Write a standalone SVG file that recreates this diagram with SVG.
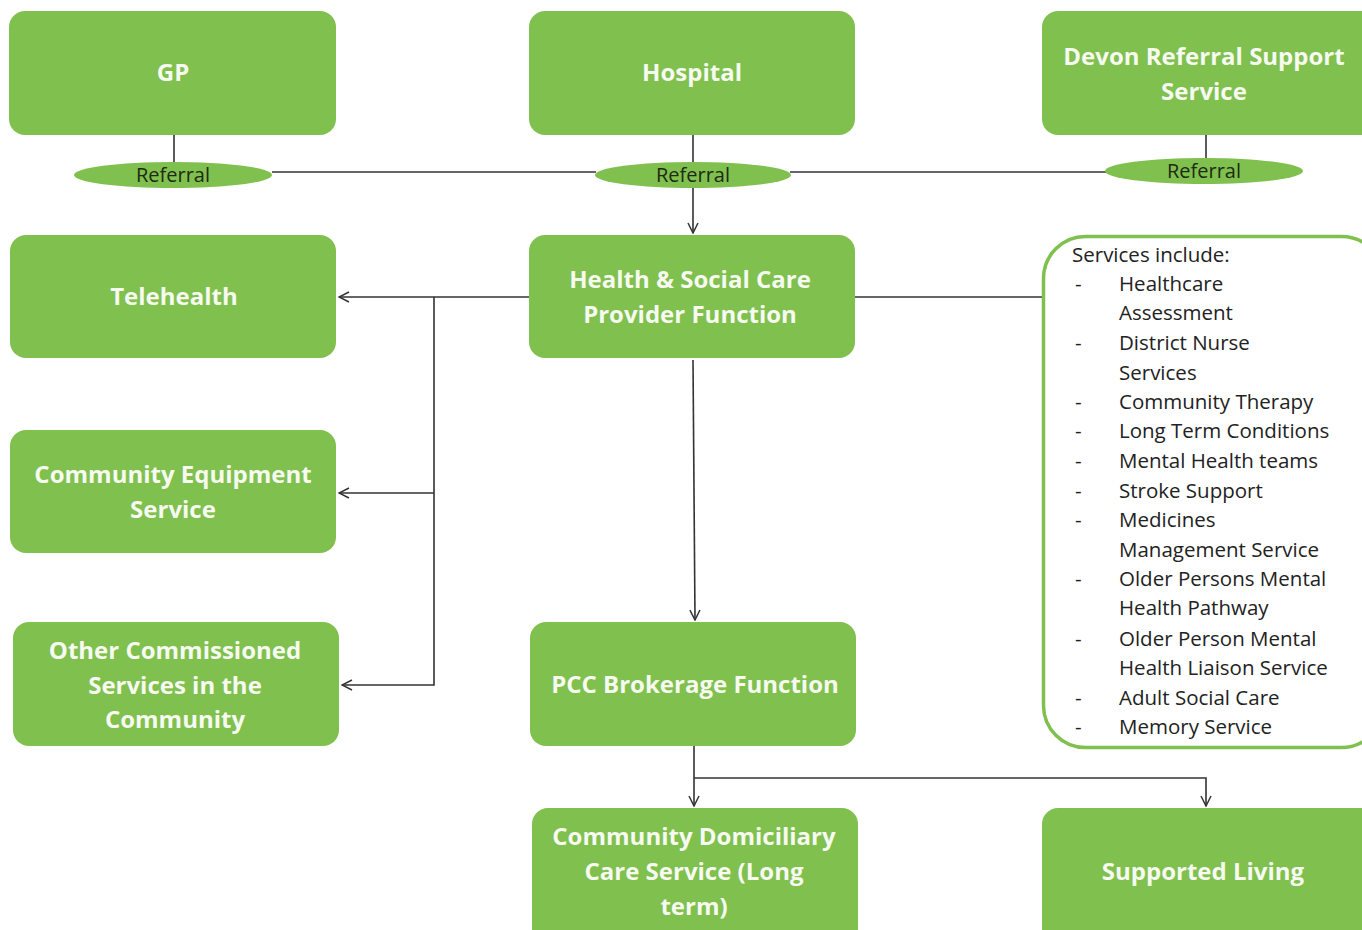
<svg xmlns="http://www.w3.org/2000/svg" width="1362" height="930" viewBox="0 0 1362 930">
<defs>
<marker id="arr" viewBox="0 0 12 12" refX="11" refY="6" markerWidth="12" markerHeight="12" markerUnits="userSpaceOnUse" orient="auto">
<path d="M1,1 L11,6 L1,11" fill="none" stroke="#333" stroke-width="1.5"/>
</marker>
</defs>
<style>
.box{fill:#80c04e;}
.ell{fill:#80c04e;}
.t{font-family:"Open Sans",sans-serif;font-weight:bold;font-size:24px;fill:#f6faf0;text-anchor:middle;}
.r{font-family:"Open Sans",sans-serif;font-size:20px;fill:#1e2a14;text-anchor:middle;}
.s{font-family:"Open Sans",sans-serif;font-size:20.5px;fill:#222;}
.c{fill:none;stroke:#333;stroke-width:1.6;}
</style>
<rect width="1362" height="930" fill="#ffffff"/>
<g id="connectors">
<path class="c" d="M174,135 V162"/>
<path class="c" d="M693,135 V162"/>
<path class="c" d="M1206,135 V158"/>
<path class="c" d="M272,172 H596"/>
<path class="c" d="M790,172 H1107"/>
<path class="c" d="M693,188 V233" marker-end="url(#arr)"/>
<path class="c" d="M529,297 H339" marker-end="url(#arr)"/>
<path class="c" d="M434,297 V685 H342" marker-end="url(#arr)"/>
<path class="c" d="M434,493 H339" marker-end="url(#arr)"/>
<path class="c" d="M855,297 H1043"/>
<path class="c" d="M693,360 L695,620" marker-end="url(#arr)"/>
<path class="c" d="M694,746 V806" marker-end="url(#arr)"/>
<path class="c" d="M694,778 H1206 V806" marker-end="url(#arr)"/>
</g>
<g id="gp"><rect class="box" x="9" y="11" width="327" height="124" rx="16"/><text class="t" x="173" y="81">GP</text></g>
<g id="hospital"><rect class="box" x="529" y="11" width="326" height="124" rx="16"/><text class="t" x="692" y="81">Hospital</text></g>
<g id="devon"><rect class="box" x="1042" y="11" width="336" height="124" rx="16"/><text class="t" x="1204" y="65">Devon Referral Support</text><text class="t" x="1204" y="100">Service</text></g>
<g id="ref1"><ellipse class="ell" cx="173" cy="175" rx="99" ry="13"/><text class="r" x="173" y="182">Referral</text></g>
<g id="ref2"><ellipse class="ell" cx="693" cy="175" rx="98" ry="13"/><text class="r" x="693" y="182">Referral</text></g>
<g id="ref3"><ellipse class="ell" cx="1204" cy="171" rx="99" ry="13"/><text class="r" x="1204" y="178">Referral</text></g>
<g id="hsc"><rect class="box" x="529" y="235" width="326" height="123" rx="16"/><text class="t" x="690" y="288">Health &amp; Social Care</text><text class="t" x="690" y="323">Provider Function</text></g>
<g id="telehealth"><rect class="box" x="10" y="235" width="326" height="123" rx="16"/><text class="t" x="174" y="305">Telehealth</text></g>
<g id="ces"><rect class="box" x="10" y="430" width="326" height="123" rx="16"/><text class="t" x="173" y="483">Community Equipment</text><text class="t" x="173" y="518">Service</text></g>
<g id="other"><rect class="box" x="13" y="622" width="326" height="124" rx="16"/><text class="t" x="175" y="659">Other Commissioned</text><text class="t" x="175" y="694">Services in the</text><text class="t" x="175" y="728">Community</text></g>
<g id="pcc"><rect class="box" x="530" y="622" width="326" height="124" rx="16"/><text class="t" x="695" y="693">PCC Brokerage Function</text></g>
<g id="cdc"><rect class="box" x="532" y="808" width="326" height="140" rx="16"/><text class="t" x="694" y="845">Community Domiciliary</text><text class="t" x="694" y="880">Care Service (Long</text><text class="t" x="694" y="915">term)</text></g>
<g id="supported"><rect class="box" x="1042" y="808" width="336" height="140" rx="16"/><text class="t" x="1203" y="880">Supported Living</text></g>
<g id="services">
<rect x="1043.5" y="236.5" width="340" height="511" rx="42" fill="#ffffff" stroke="#80c04e" stroke-width="3.5"/>
<text class="s" x="1072" y="262">Services include:</text>
<g class="s">
<text x="1075" y="291">-</text><text x="1119" y="291">Healthcare</text>
<text x="1119" y="320">Assessment</text>
<text x="1075" y="350">-</text><text x="1119" y="350">District Nurse</text>
<text x="1119" y="380">Services</text>
<text x="1075" y="409">-</text><text x="1119" y="409">Community Therapy</text>
<text x="1075" y="438">-</text><text x="1119" y="438">Long Term Conditions</text>
<text x="1075" y="468">-</text><text x="1119" y="468">Mental Health teams</text>
<text x="1075" y="498">-</text><text x="1119" y="498">Stroke Support</text>
<text x="1075" y="527">-</text><text x="1119" y="527">Medicines</text>
<text x="1119" y="557">Management Service</text>
<text x="1075" y="586">-</text><text x="1119" y="586">Older Persons Mental</text>
<text x="1119" y="615">Health Pathway</text>
<text x="1075" y="646">-</text><text x="1119" y="646">Older Person Mental</text>
<text x="1119" y="675">Health Liaison Service</text>
<text x="1075" y="705">-</text><text x="1119" y="705">Adult Social Care</text>
<text x="1075" y="734">-</text><text x="1119" y="734">Memory Service</text>
</g>
</g>
</svg>
